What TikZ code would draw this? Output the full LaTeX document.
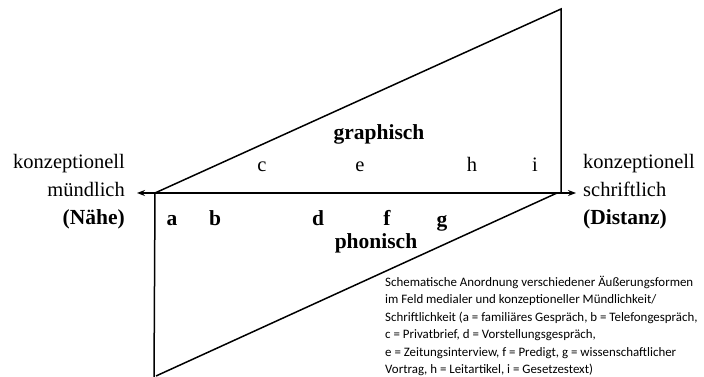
\documentclass[tikz,border=0pt]{standalone}
\usepackage{fontspec}
\setmainfont{Liberation Serif}
\newfontfamily\capfont{Carlito}
\usetikzlibrary{arrows.meta}
\begin{document}
\begin{tikzpicture}[x=1pt,y=1pt,
  edge/.style={line width=1.5pt,line join=miter},
  axis/.style={line width=1.5pt,{Stealth[length=8pt,width=6pt]}-{Stealth[length=8pt,width=6pt]}},
  big/.style={font=\fontsize{20.5}{24}\selectfont,inner sep=0pt},
  bigb/.style={font=\fontsize{21.5}{24}\selectfont\bfseries,inner sep=0pt},
  captext/.style={font=\capfont\fontsize{12.9}{17.4}\selectfont,align=left,inner sep=0pt}]
\useasboundingbox (0,0) rectangle (704,377);
% coordinates
\coordinate (L) at (155,184);
\coordinate (T) at (561,368);
\coordinate (R) at (561,184);
\coordinate (B) at (154,-2);
\coordinate (Bh) at (156,1);
\coordinate (Rl) at (557,184);
\coordinate (lt) at (137,184);
\coordinate (rt) at (576,184);
% upper triangle
\draw[edge] (L) -- (T) -- (R);
% lower triangle
\draw[edge] (L) -- (B);
\draw[edge] (Bh) -- (Rl);
% axis
\draw[axis] (lt) -- (rt);
% side labels
\node[big,anchor=base east] (kl) at (125,208) {konzeptionell};
\node[big,anchor=base east] (ml) at (125,180) {mündlich};
\node[bigb,anchor=base east] (nl) at (125,152) {(Nähe)};
\node[big,anchor=base west] (kr) at (583,208) {konzeptionell};
\node[big,anchor=base west] (sr) at (583,180) {schriftlich};
\node[bigb,anchor=base west] (dr) at (583,152) {(Distanz)};
% region labels
\node[bigb,anchor=base] (gr) at (379,237) {graphisch};
\node[bigb,anchor=base] (ph) at (376,128) {phonisch};
% upper letters
\node[big,anchor=base] (c) at (262,205) {c};
\node[big,anchor=base] (e) at (360,205) {e};
\node[big,anchor=base] (h) at (472,205) {h};
\node[big,anchor=base] (i) at (535,205) {i};
% lower letters
\node[bigb,anchor=base] (a) at (172,151) {a};
\node[bigb,anchor=base] (b) at (215,151) {b};
\node[bigb,anchor=base] (d) at (318,151) {d};
\node[bigb,anchor=base] (f) at (387,151) {f};
\node[bigb,anchor=base] (g) at (442,150) {g};
% caption
\node[captext,anchor=north west] (capt) at (385,101) {Schematische Anordnung verschiedener Äußerungsformen\\
im Feld medialer und konzeptioneller Mündlichkeit/\\
Schriftlichkeit (a = familiäres Gespräch, b = Telefongespräch,\\
c = Privatbrief, d = Vorstellungsgespräch,\\
e = Zeitungsinterview, f = Predigt, g = wissenschaftlicher\\
Vortrag, h = Leitartikel, i = Gesetzestext)};
\end{tikzpicture}
\end{document}
